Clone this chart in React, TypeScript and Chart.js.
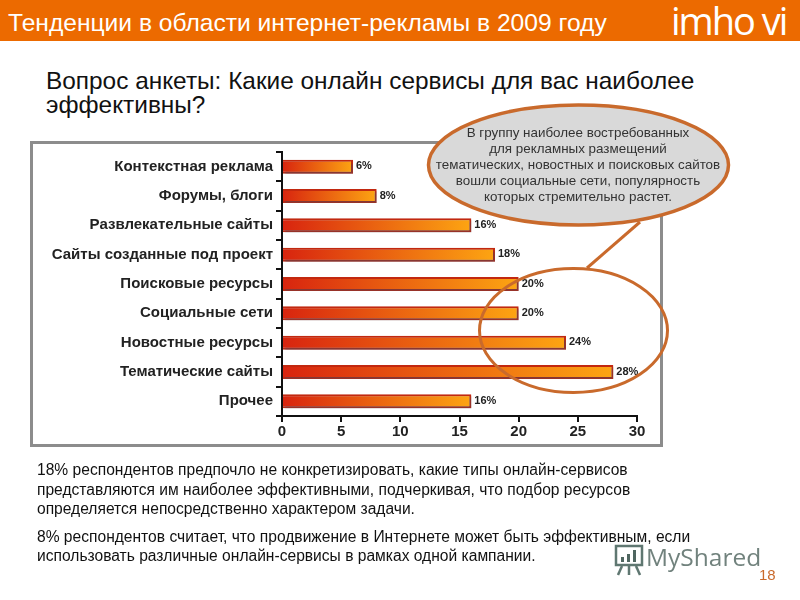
import React, { useEffect, useRef } from "react";
import { Chart, registerables } from "chart.js";

Chart.register(...registerables);

const categories = [
  "Контекстная реклама",
  "Форумы, блоги",
  "Развлекательные сайты",
  "Сайты созданные под проект",
  "Поисковые ресурсы",
  "Социальные сети",
  "Новостные ресурсы",
  "Тематические сайты",
  "Прочее",
];
const values = [6, 8, 16, 18, 20, 20, 24, 28, 16];
const xTicks = [0, 5, 10, 15, 20, 25, 30];

const titleText = "Тенденции в области интернет-рекламы в 2009 году";
const questionLines = ["Вопрос анкеты: Какие онлайн сервисы для вас наиболее", "эффективны?"];
const calloutLines = [
  "В группу наиболее востребованных",
  "для рекламных размещений",
  "тематических, новостных и поисковых сайтов",
  "вошли социальные сети, популярность",
  "которых стремительно растет.",
];
const para1 = [
  "18% респондентов предпочло не конкретизировать, какие типы онлайн-сервисов",
  "представляются им наиболее эффективными, подчеркивая, что подбор ресурсов",
  "определяется непосредственно характером задачи.",
];
const para2 = [
  "8% респондентов считает, что продвижение в Интернете может быть эффективным, если",
  "использовать различные онлайн-сервисы в рамках одной кампании.",
];

const FONT = '"Liberation Sans", Arial, sans-serif';
const ORANGE = "#c96a2c";

const barEffects = {
  id: "barEffects",
  beforeDatasetDraw(chart: any) {
    const c = chart.ctx;
    c.save();
    c.shadowColor = "rgba(70,70,90,0.5)";
    c.shadowBlur = 2;
    c.shadowOffsetX = 2;
    c.shadowOffsetY = 2;
  },
  afterDatasetDraw(chart: any) {
    chart.ctx.restore();
  },
  afterDatasetsDraw(chart: any) {
    const c = chart.ctx;
    const meta = chart.getDatasetMeta(0);
    c.save();
    c.font = `bold 11px ${FONT}`;
    c.fillStyle = "#222";
    c.textBaseline = "middle";
    c.textAlign = "left";
    meta.data.forEach((el: any, i: number) => {
      c.fillText(`${values[i]}%`, el.x + 3, el.y - 0.5);
    });
    c.restore();
  },
};

function Line({ x, y, size, color, text, center, width, weight }: any) {
  return (
    <div
      style={{
        position: "absolute",
        left: x,
        top: y,
        width: width,
        fontFamily: FONT,
        fontSize: size,
        color,
        whiteSpace: "nowrap",
        lineHeight: 1,
        textAlign: center ? "center" : "left",
        fontWeight: weight || "normal",
      }}
    >
      {text}
    </div>
  );
}

export default function App() {
  const ref = useRef<HTMLCanvasElement>(null);
  useEffect(() => {
    document.body.style.margin = "0";
    const chart = new Chart(ref.current as HTMLCanvasElement, {
      type: "bar",
      plugins: [barEffects],
      data: {
        labels: categories,
        datasets: [
          {
            data: values,
            categoryPercentage: 1,
            barPercentage: 0.48,
            borderColor: "#c2280f",
            borderWidth: 2,
            backgroundColor: (ctx: any) => {
              const x = ctx.chart.scales?.x;
              const v = values[ctx.dataIndex];
              const x0 = x ? x.getPixelForValue(0) : NaN;
              const x1 = x ? x.getPixelForValue(v) : NaN;
              if (!Number.isFinite(x0) || !Number.isFinite(x1)) return "#e85a10";
              const g = ctx.chart.ctx.createLinearGradient(x0, 0, x1, 0);
              g.addColorStop(0, "#d8240f");
              g.addColorStop(1, "#fda512");
              return g;
            },
          },
        ],
      },
      options: {
        indexAxis: "y",
        animation: false,
        responsive: false,
        layout: { padding: { top: 152, right: 163, left: 0, bottom: 0 } },
        plugins: { legend: { display: false }, tooltip: { enabled: false } },
        scales: {
          x: {
            min: 0,
            max: 30,
            afterFit: (s: any) => {
              s.height = 184;
            },
            afterBuildTicks: (s: any) => {
              s.ticks = xTicks.map((value) => ({ value }));
            },
            grid: { drawOnChartArea: false, color: "#111", lineWidth: 2, tickLength: 6 },
            border: { color: "#111", width: 2 },
            ticks: {
              color: "#222",
              padding: 1,
              maxRotation: 0,
              font: { family: FONT, size: 15, weight: "bold" },
            },
          },
          y: {
            afterFit: (s: any) => {
              s.width = 282;
            },
            grid: { drawOnChartArea: false, color: "#111", lineWidth: 2, tickLength: 6 },
            border: { color: "#111", width: 2 },
            ticks: {
              color: "#222",
              padding: 3,
              autoSkip: false,
              font: { family: FONT, size: 15, weight: "bold" },
            },
          },
        },
      },
    } as any);
    return () => chart.destroy();
  }, []);

  return (
    <div style={{ position: "relative", width: 800, height: 600, background: "#fff", overflow: "hidden" }}>
      <div style={{ position: "absolute", left: 0, top: 0, width: 800, height: 41, background: "#ec6a00" }} />
      <Line x={8} y={11} size={24.6} color="#fff" text={titleText} />
      <div
        style={{
          position: "absolute",
          left: 671,
          top: -2,
          fontFamily: '"Open Sans", sans-serif',
          fontSize: 38,
          letterSpacing: -2,
          color: "#fff",
          whiteSpace: "nowrap",
          lineHeight: "44px",
        }}
      >
        imho vi
      </div>

      {questionLines.map((t, i) => (
        <Line key={t} x={46} y={69 + i * 24} size={24.4} color="#111" text={t} />
      ))}

      <div
        style={{
          position: "absolute",
          left: 30,
          top: 141,
          width: 633,
          height: 306,
          boxSizing: "border-box",
          border: "3px solid #8c8c8c",
        }}
      />
      <canvas ref={ref} width={800} height={600} style={{ position: "absolute", left: 0, top: 0 }} />

      <svg width={800} height={600} style={{ position: "absolute", left: 0, top: 0 }}>
        <line x1={640} y1={222} x2={587} y2={268} stroke={ORANGE} strokeWidth={3} />
        <ellipse cx={573.5} cy={330.5} rx={94} ry={62} fill="none" stroke={ORANGE} strokeWidth={3} />
        <ellipse cx={578.5} cy={165} rx={150} ry={60} fill="#d9d9d9" stroke={ORANGE} strokeWidth={3.5} />
      </svg>

      {calloutLines.map((t, i) => (
        <Line key={t} x={428} y={126 + i * 16} width={300} center size={13.4} color="#333" text={t} />
      ))}

      {para1.map((t, i) => (
        <Line key={t} x={37} y={462 + i * 19.5} size={15.6} color="#111" text={t} />
      ))}
      {para2.map((t, i) => (
        <Line key={t} x={37} y={529 + i * 19} size={15.6} color="#111" text={t} />
      ))}

      <svg width={40} height={34} style={{ position: "absolute", left: 610, top: 542 }}>
        <g fill="none" stroke="#5f7771" strokeWidth={2.5}>
          <rect x={6} y={4} width={26} height={19} />
          <line x1={12} y1={24} x2={8} y2={33} />
          <line x1={19} y1={24} x2={19} y2={33} />
          <line x1={26} y1={24} x2={30} y2={33} />
        </g>
        <g fill="#4f6660">
          <rect x={11} y={15} width={3} height={5} />
          <rect x={17} y={12} width={3} height={8} />
          <rect x={23} y={8} width={3} height={12} />
        </g>
      </svg>
      <div
        style={{
          position: "absolute",
          left: 646,
          top: 541,
          fontFamily: '"Open Sans", sans-serif',
          fontSize: 24.5,
          color: "#71827d",
          lineHeight: "32px",
          whiteSpace: "nowrap",
        }}
      >
        MyShared
      </div>
      <Line x={759} y={567} size={15} color="#c96a2c" text="18" />
    </div>
  );
}
